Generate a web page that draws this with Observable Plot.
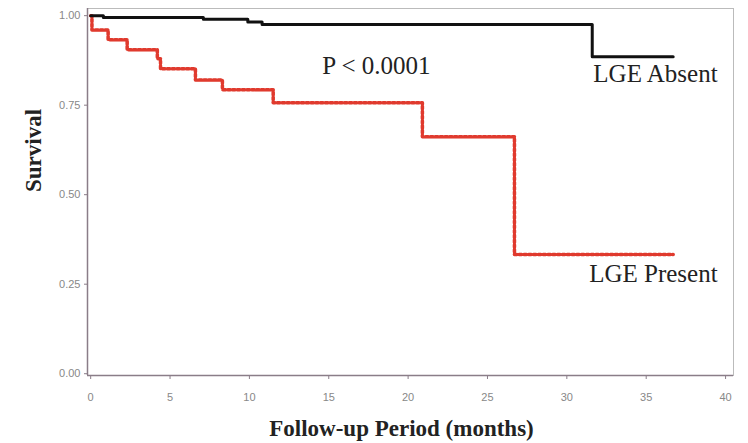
<!DOCTYPE html>
<html>
<head>
<meta charset="utf-8">
<script src="https://cdn.jsdelivr.net/npm/d3@7"></script>
<script src="https://cdn.jsdelivr.net/npm/@observablehq/plot@0.6"></script>
<style>
  html, body { margin: 0; padding: 0; background: #fff; }
  #chart { width: 748px; height: 443px; }
</style>
</head>
<body>
<div id="chart"></div>
<script>
// LGE Absent (black, solid)
const absentTime     = [0, 0.8, 7.1, 9.9, 10.8, 31.6, 36.7];
const absentSurvival = [1.0, 0.995, 0.99, 0.982, 0.975, 0.885, 0.885];
// LGE Present (red, dotted)
const presentTime     = [0, 0.08, 1.1, 2.3, 4.2, 4.4, 6.6, 8.3, 11.5, 20.9, 26.7, 36.7];
const presentSurvival = [1.0, 0.96, 0.933, 0.905, 0.88, 0.852, 0.82, 0.793, 0.757, 0.662, 0.333, 0.333];

const xTicks = [0, 5, 10, 15, 20, 25, 30, 35, 40];
const yTicks = [0, 0.25, 0.5, 0.75, 1.0];
const xLabel = "Follow-up Period (months)";
const yLabel = "Survival";
const pText = "P < 0.0001";
const absentLabel = "LGE Absent";
const presentLabel = "LGE Present";

const absent = absentTime.map((t, i) => ({t, s: absentSurvival[i]}));
const present = presentTime.map((t, i) => ({t, s: presentSurvival[i]}));

const serif = "'Liberation Serif', 'DejaVu Serif', serif";
const axisColor = "#8a7d88";

const chart = Plot.plot({
  width: 748,
  height: 443,
  marginLeft: 87,
  marginRight: 15,
  marginTop: 8,
  marginBottom: 68,
  style: {fontFamily: "'Liberation Sans', Arial, sans-serif", fontSize: "11px", color: "#888", background: "#fff"},
  x: {domain: [-0.2, 40.5], ticks: xTicks, label: null},
  y: {domain: [-0.005, 1.02], ticks: yTicks, label: null},
  marks: [
    Plot.frame({stroke: "#bbb", strokeWidth: 1}),
    Plot.axisX({ticks: xTicks, tickSize: 4, tickPadding: 14, stroke: axisColor, fill: "#888", tickFormat: d => String(d)}),
    Plot.axisY({ticks: yTicks, tickSize: 3, tickPadding: 4, stroke: axisColor, fill: "#888", tickFormat: d3.format(".2f")}),
    Plot.ruleX([-0.2], {stroke: axisColor, strokeWidth: 1.5}),
    Plot.ruleY([-0.005], {stroke: axisColor, strokeWidth: 1.5}),
    Plot.line(present, {x: "t", y: "s", curve: "step-after", stroke: "#f8d2cc", strokeWidth: 3}),
    Plot.line(present, {x: "t", y: "s", curve: "step-after", stroke: "#e03a2e", strokeWidth: 3.5, strokeDasharray: "2.6,2.2"}),
    Plot.line(absent, {x: "t", y: "s", curve: "step-after", stroke: "#111", strokeWidth: 3}),
    Plot.text([pText], {x: 18.0, y: 0.86, text: d => d, fontFamily: serif, fontSize: 25, fill: "#222", textAnchor: "middle"}),
    Plot.text([absentLabel], {x: 39.5, y: 0.838, text: d => d, fontFamily: serif, fontSize: 25, fill: "#222", textAnchor: "end"}),
    Plot.text([presentLabel], {x: 39.5, y: 0.279, text: d => d, fontFamily: serif, fontSize: 25, fill: "#222", textAnchor: "end"}),
    Plot.text([xLabel], {frameAnchor: "bottom", dy: 60, dx: -9, text: d => d, fontFamily: serif, fontSize: 23, fontWeight: "bold", fill: "#222"}),
    Plot.text([yLabel], {frameAnchor: "left", dx: -54, rotate: -90, text: d => d, fontFamily: serif, fontSize: 23, fontWeight: "bold", fill: "#222"})
  ]
});
document.getElementById("chart").appendChild(chart);
</script>
</body>
</html>
